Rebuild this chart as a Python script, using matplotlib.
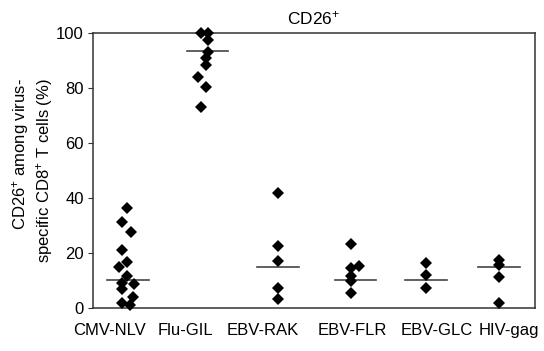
import matplotlib
matplotlib.use('Agg')
import matplotlib.pyplot as plt

plt.rcParams['font.family'] = ['Liberation Sans', 'DejaVu Sans']
plt.rcParams['mathtext.fontset'] = 'custom'
plt.rcParams['mathtext.rm'] = 'Liberation Sans'
plt.rcParams['mathtext.it'] = 'Liberation Sans:italic'

# epitopes and % CD26+ per donor
groups = ['CMV-NLV', 'Flu-GIL', 'EBV-RAK', 'EBV-FLR', 'EBV-GLC', 'HIV-gag']
cmv_nlv = [36.2, 31.2, 27.8, 21.1, 16.8, 14.8, 11.6, 9.0, 8.6, 6.8, 3.9, 1.9, 1.1]
flu_gil = [100, 100, 97.5, 93.2, 90.8, 88.4, 84.1, 80.5, 73.2]
ebv_rak = [41.7, 22.7, 17.1, 7.2, 3.3]
ebv_flr = [23.2, 15.3, 14.4, 11.7, 10.0, 5.3]
ebv_glc = [16.5, 12.0, 7.4]
hiv_gag = [17.5, 15.6, 11.4, 1.9]
medians = [10.2, 93.5, 15.0, 10.2, 10.2, 15.0]

values = [cmv_nlv, flu_gil, ebv_rak, ebv_flr, ebv_glc, hiv_gag]

# layout: where each column sits, where the labels sit, small horizontal scatter
group_x = [0.46, 1.55, 2.51, 3.50, 4.52, 5.51]
line_x = [0.475, 1.55, 2.51, 3.56, 4.52, 5.51]
label_x = [0.23, 1.26, 2.31, 3.52, 4.66, 5.65]
jitter = [
    [0, -0.07, 0.05, -0.07, 0, -0.11, 0, -0.07, 0.1, -0.07, 0.08, -0.07, 0.04],
    [-0.09, 0.01, 0.01, 0.01, -0.01, -0.02, -0.12, -0.02, -0.09],
    [0, 0, 0, 0, 0, 0],
    [0, 0.11, 0, 0, 0, 0],
    [0, 0, 0],
    [0, 0, 0, 0],
]

fig = plt.figure(figsize=(5.44, 3.51), dpi=100)
ax = fig.add_axes([93 / 544, 43 / 351, 442 / 544, 275 / 351])

for i, vals in enumerate(values):
    xs = [group_x[i] + jitter[i][j] for j in range(len(vals))]
    ax.plot(xs, vals, 'D', color='black', ms=5.9, mew=0, clip_on=False, zorder=3)
    ax.plot([line_x[i] - 0.28, line_x[i] + 0.28], [medians[i], medians[i]],
            color='#444444', lw=1.2, zorder=2)

ax.set_xlim(0, 6)
ax.set_ylim(0, 100)
ax.set_yticks([0, 20, 40, 60, 80, 100])
ax.set_xticks(label_x)
ax.set_xticklabels(groups)
ax.tick_params(axis='x', length=0, pad=11, labelsize=12)
ax.tick_params(axis='y', length=3.5, width=0.8, pad=3, labelsize=12, color='#333333')
for s in ax.spines.values():
    s.set_linewidth(1.1)
    s.set_color('#333333')

ax.set_ylabel('CD26$^{+}$ among virus-\nspecific CD8$^{+}$ T cells (%)',
              fontsize=12, multialignment='right', labelpad=1)
ax.set_title('CD26$^{+}$', fontsize=12.5, pad=6)

fig.savefig('out.png', dpi=100)
